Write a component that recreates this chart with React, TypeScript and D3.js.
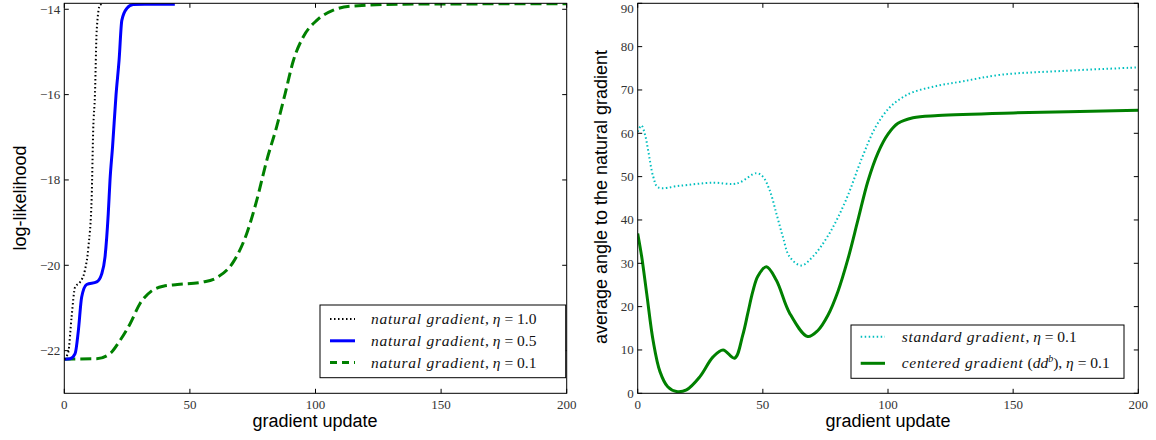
import React from "react";
import * as d3 from "d3";

// ---------- data ----------
const xTicks = [0, 50, 100, 150, 200];
const leftYTicks = [-22, -20, -18, -16, -14];
const rightYTicks = [0, 10, 20, 30, 40, 50, 60, 70, 80, 90];

const nat10X = [0, 1.6, 2.9, 4.3, 6.3, 8.2, 9.6, 10.9, 11.5, 12.2, 12.9, 14.2, 15.5];
const nat10Y = [-22.2, -22.03, -21.21, -20.51, -20.39, -20.12, -19.57, -18.4, -16.84, -16.0, -14.49, -13.9, -13.87];

const nat05X = [0, 2.3, 4.3, 5.6, 6.9, 8.9, 12.9, 14.9, 16.2, 17.5, 18.2, 19.2, 20.6, 21.8, 22.9, 24.9, 27.4, 32, 44];
const nat05Y = [-22.2, -22.19, -22.07, -21.53, -20.75, -20.45, -20.39, -20.2, -19.81, -18.79, -18.0, -17.23, -16.0, -15.2, -14.26, -13.98, -13.89, -13.88, -13.88];

const nat01X = [0, 12.9, 18.2, 22.2, 26.2, 30.1, 34.8, 39.4, 45, 55.3, 60.7, 67.3, 72.6, 76.6, 80.6, 84.5, 87.9, 91.2, 95.1, 100.5, 107.1, 113.7, 135, 200];
const nat01Y = [-22.2, -22.19, -22.07, -21.76, -21.37, -20.9, -20.6, -20.49, -20.45, -20.39, -20.29, -19.92, -19.26, -18.48, -17.54, -16.76, -15.98, -15.2, -14.65, -14.26, -14.02, -13.93, -13.88, -13.87];

const stdX = [0, 1.5, 3, 4.2, 6.2, 8.2, 16.8, 30.1, 38, 41, 47.4, 50, 52.7, 55.4, 58, 60.7, 65.3, 69.9, 76.6, 83.2, 89.8, 95.1, 100.4, 105, 110, 120, 130, 145, 170, 200];
const stdY = [60.4, 61.8, 59.5, 56, 50, 47.5, 47.9, 48.6, 48.3, 48.7, 50.8, 50, 46.9, 41.5, 36.1, 31.5, 29.5, 31.5, 36.9, 44.6, 54.6, 61.5, 65.8, 68, 69.5, 71, 72, 73.5, 74.4, 75.2];

const ctrX = [0, 1.6, 3.6, 6.2, 8.9, 12, 15.5, 19.5, 24.8, 30.1, 34.1, 38.7, 42, 44, 46, 48, 51.4, 55.4, 60.7, 67.9, 72, 76, 80, 84, 88, 92, 96, 100, 104, 110, 120, 150, 200];
const ctrY = [36.9, 31.5, 23, 12, 5, 1.5, 0.4, 0.8, 3.8, 8.4, 10, 8.1, 13.5, 18.5, 23.5, 27, 29.2, 26.1, 18.5, 13.1, 14.5, 18, 23.5, 31, 40, 49, 55.5, 59.8, 62.3, 63.6, 64.1, 64.7, 65.3];

const leftLegend = ["1.0", "0.5", "0.1"];
const rightLegend = ["standard gradient", "centered gradient"];

// ---------- layout ----------
const W = 1156;
const H = 440;
const top = 3.3;
const bottom = 393.3;
const L = { x0: 64.3, x1: 566.7 };
const R = { x0: 637.7, x1: 1138.3 };

const xL = d3.scaleLinear().domain([0, 200]).range([L.x0, L.x1]);
const yL = d3.scaleLinear().domain([-23, -13.86]).range([bottom, top]);
const xR = d3.scaleLinear().domain([0, 200]).range([R.x0, R.x1]);
const yR = d3.scaleLinear().domain([0, 90]).range([bottom, top]);

const serif = "'Liberation Serif', 'DejaVu Serif', serif";
const sans = "'Liberation Sans', Arial, sans-serif";

function pathFor(xs: number[], ys: number[], xs_: any, ys_: any, curve: any) {
  const pts = xs.map((x, i) => [x, ys[i]] as [number, number]);
  return d3
    .line<[number, number]>()
    .x((d) => xs_(d[0]))
    .y((d) => ys_(d[1]))
    .curve(curve)(pts) as string;
}

const fmt = (v: number) => (v < 0 ? "\u2212" + Math.abs(v) : String(v));

function Frame({ x0, x1, xs, ys, yTicks }: any) {
  const tl = 4.5;
  return (
    <g>
      <rect x={x0} y={top} width={x1 - x0} height={bottom - top} fill="none" stroke="#000" strokeWidth={1} />
      {xTicks.map((t) => (
        <g key={"x" + t}>
          <line x1={xs(t)} x2={xs(t)} y1={bottom} y2={bottom - tl} stroke="#000" />
          <line x1={xs(t)} x2={xs(t)} y1={top} y2={top + tl} stroke="#000" />
          <text x={xs(t)} y={409} textAnchor="middle" fontFamily={serif} fontSize={13} fill="#333">
            {t}
          </text>
        </g>
      ))}
      {yTicks.map((t: number) => (
        <g key={"y" + t}>
          <line x1={x0} x2={x0 + tl} y1={ys(t)} y2={ys(t)} stroke="#000" />
          <line x1={x1} x2={x1 - tl} y1={ys(t)} y2={ys(t)} stroke="#000" />
          <text x={x0 - 4} y={Math.max(ys(t) + 4.5, 12.5)} textAnchor="end" fontFamily={serif} fontSize={13} fill="#333">
            {fmt(t)}
          </text>
        </g>
      ))}
    </g>
  );
}

const ls = 0.75;

export default function App() {
  const lineH = 21.8;
  return (
    <svg width={W} height={H} style={{ position: "absolute", left: 0, top: 0, background: "#fff" }}>
      <defs>
        <clipPath id="clipL">
          <rect x={L.x0} y={top} width={L.x1 - L.x0} height={bottom - top} />
        </clipPath>
        <clipPath id="clipR">
          <rect x={R.x0} y={top} width={R.x1 - R.x0} height={bottom - top} />
        </clipPath>
      </defs>
      <rect x={0} y={0} width={W} height={H} fill="#fff" />

      {/* LEFT PANEL */}
      <g clipPath="url(#clipL)">
        <path d={pathFor(nat01X, nat01Y, xL, yL, d3.curveMonotoneX)} fill="none" stroke="#008000" strokeWidth={3} strokeDasharray="11,5" />
        <path d={pathFor(nat05X, nat05Y, xL, yL, d3.curveMonotoneX)} fill="none" stroke="#0000ff" strokeWidth={3} />
        <path d={pathFor(nat10X, nat10Y, xL, yL, d3.curveMonotoneX)} fill="none" stroke="#000" strokeWidth={2} strokeDasharray="1.5,2.5" />
      </g>
      <Frame x0={L.x0} x1={L.x1} xs={xL} ys={yL} yTicks={leftYTicks} />
      <text x={315} y={427} textAnchor="middle" fontFamily={sans} fontSize={18}>gradient update</text>
      <text transform="translate(26,198) rotate(-90)" textAnchor="middle" fontFamily={sans} fontSize={18}>log-likelihood</text>

      {/* left legend */}
      <g>
        <rect x={320} y={305} width={245.7} height={72.7} fill="#fff" stroke="#000" strokeWidth={1} />
        {leftLegend.map((v, i) => {
          const yy = 319 + i * lineH;
          const st =
            i === 0
              ? { stroke: "#000", strokeWidth: 2, strokeDasharray: "1.5,2.5" }
              : i === 1
              ? { stroke: "#0000ff", strokeWidth: 3 }
              : { stroke: "#008000", strokeWidth: 3, strokeDasharray: "7,5" };
          return (
            <g key={v}>
              <line x1={330} x2={355} y1={yy} y2={yy} {...st} />
              <text x={371} y={yy + 5} fontFamily={serif} fontSize={15.5} fill="#111">
                <tspan fontStyle="italic" letterSpacing={ls}>natural gradient</tspan>
                <tspan>, </tspan>
                <tspan fontStyle="italic">η</tspan>
                <tspan> = {v}</tspan>
              </text>
            </g>
          );
        })}
      </g>

      {/* RIGHT PANEL */}
      <g clipPath="url(#clipR)">
        <path d={pathFor(stdX, stdY, xR, yR, d3.curveCatmullRom.alpha(0.5))} fill="none" stroke="#00bfbf" strokeWidth={2} strokeDasharray="1.5,2.5" />
        <path d={pathFor(ctrX, ctrY, xR, yR, d3.curveCatmullRom.alpha(0.5))} fill="none" stroke="#008000" strokeWidth={3} />
      </g>
      <Frame x0={R.x0} x1={R.x1} xs={xR} ys={yR} yTicks={rightYTicks} />
      <text x={888} y={427} textAnchor="middle" fontFamily={sans} fontSize={18}>gradient update</text>
      <text transform="translate(607,197) rotate(-90)" textAnchor="middle" fontFamily={sans} fontSize={18}>
        average angle to the natural gradient
      </text>

      {/* right legend */}
      <g>
        <rect x={851} y={325} width={273} height={53.3} fill="#fff" stroke="#000" strokeWidth={1} />
        <line x1={860.7} x2={885} y1={336.7} y2={336.7} stroke="#00bfbf" strokeWidth={2} strokeDasharray="1.5,2.5" />
        <text x={901.7} y={341.7} fontFamily={serif} fontSize={15.5} fill="#111">
          <tspan fontStyle="italic" letterSpacing={ls}>{rightLegend[0]}</tspan>
          <tspan>, </tspan>
          <tspan fontStyle="italic">η</tspan>
          <tspan> = 0.1</tspan>
        </text>
        <line x1={860.7} x2={885} y1={363.3} y2={363.3} stroke="#008000" strokeWidth={3} />
        <text x={901.7} y={368.3} fontFamily={serif} fontSize={15.5} fill="#111">
          <tspan fontStyle="italic" letterSpacing={ls}>{rightLegend[1]}</tspan>
          <tspan> (</tspan>
          <tspan fontStyle="italic">dd</tspan>
          <tspan fontStyle="italic" fontSize={10} dy={-6}>b</tspan>
          <tspan dy={6}>), </tspan>
          <tspan fontStyle="italic">η</tspan>
          <tspan> = 0.1</tspan>
        </text>
      </g>
    </svg>
  );
}
